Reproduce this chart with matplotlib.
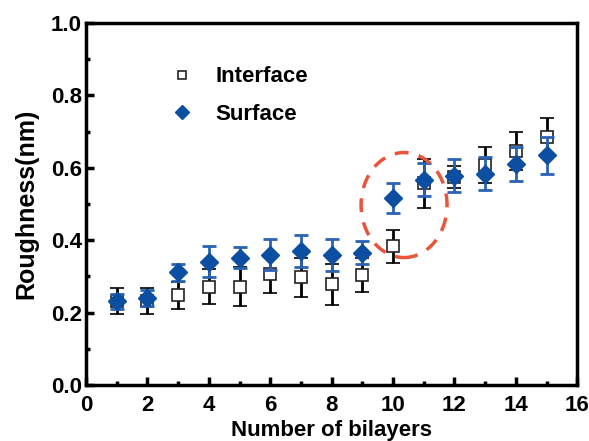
import matplotlib
matplotlib.use("Agg")
import matplotlib.pyplot as plt
from matplotlib.patches import Ellipse
from matplotlib.ticker import MultipleLocator

plt.rcParams['font.family'] = ['Liberation Sans', 'DejaVu Sans']
plt.rcParams['font.weight'] = 'bold'

bilayers = [1, 2, 3, 4, 5, 6, 7, 8, 9, 10, 11, 12, 13, 14, 15]

interface = [0.232, 0.232, 0.248, 0.272, 0.272, 0.307, 0.298, 0.278, 0.304, 0.383, 0.557, 0.574, 0.608, 0.646, 0.684]
interface_err = [0.035, 0.035, 0.037, 0.049, 0.055, 0.053, 0.054, 0.056, 0.046, 0.046, 0.067, 0.03, 0.05, 0.052, 0.053]

surface = [0.231, 0.240, 0.311, 0.341, 0.352, 0.360, 0.371, 0.359, 0.365, 0.517, 0.567, 0.578, 0.584, 0.610, 0.634]
surface_err = [0.02, 0.022, 0.024, 0.042, 0.03, 0.043, 0.044, 0.043, 0.032, 0.042, 0.046, 0.045, 0.046, 0.047, 0.05]

blue = '#0c4ea2'
blue_err = '#2a62b4'

fig = plt.figure(figsize=(5.89, 4.41), dpi=100)
ax = fig.add_axes([0.146, 0.127, 0.834, 0.821])

ax.errorbar(bilayers, interface, yerr=interface_err, fmt='s', ms=8,
            mfc='white', mec='#222222', mew=1.2, ecolor='black',
            elinewidth=2, capsize=5, capthick=2, label='Interface', zorder=3)
ax.errorbar(bilayers, surface, yerr=surface_err, fmt='D', ms=9,
            mfc=blue, mec=blue, ecolor=blue_err,
            elinewidth=2, capsize=5, capthick=2, label='Surface', zorder=4)

# dashed red ring round the jump at 10-11 bilayers
ring = Ellipse((10.36, 0.497), 2.8, 0.29, angle=0, fill=False,
               edgecolor='#e8553a', lw=2.5, ls=(0, (4, 3)), zorder=5)
ax.add_patch(ring)

ax.set_xlim(0, 16)
ax.set_ylim(0, 1.0)
ax.xaxis.set_major_locator(MultipleLocator(2))
ax.xaxis.set_minor_locator(MultipleLocator(1))
ax.yaxis.set_major_locator(MultipleLocator(0.2))
ax.yaxis.set_minor_locator(MultipleLocator(0.1))
ax.yaxis.set_major_formatter(matplotlib.ticker.FormatStrFormatter('%.1f'))

ax.tick_params(which='both', direction='in', width=2.5, labelsize=16)
ax.tick_params(which='major', length=6, pad=3)
ax.tick_params(axis='x', which='major', pad=7)
ax.tick_params(which='minor', length=3)
for s in ax.spines.values():
    s.set_linewidth(2.5)
for lab in ax.get_xticklabels() + ax.get_yticklabels():
    lab.set_fontweight('bold')

ax.set_xlabel('Number of bilayers', fontsize=16, fontweight='bold', labelpad=3)
ax.set_ylabel('Roughness(nm)', fontsize=18, fontweight='bold', labelpad=9)

handles, labels = ax.get_legend_handles_labels()
handles = [h[0] for h in handles]
ax.legend(handles, labels, loc='upper left', bbox_to_anchor=(0.11, 0.935),
          frameon=False, prop={'weight': 'bold', 'size': 16},
          handletextpad=0.5, labelspacing=0.75, markerscale=0.8)

fig.savefig('out.png', dpi=100)
